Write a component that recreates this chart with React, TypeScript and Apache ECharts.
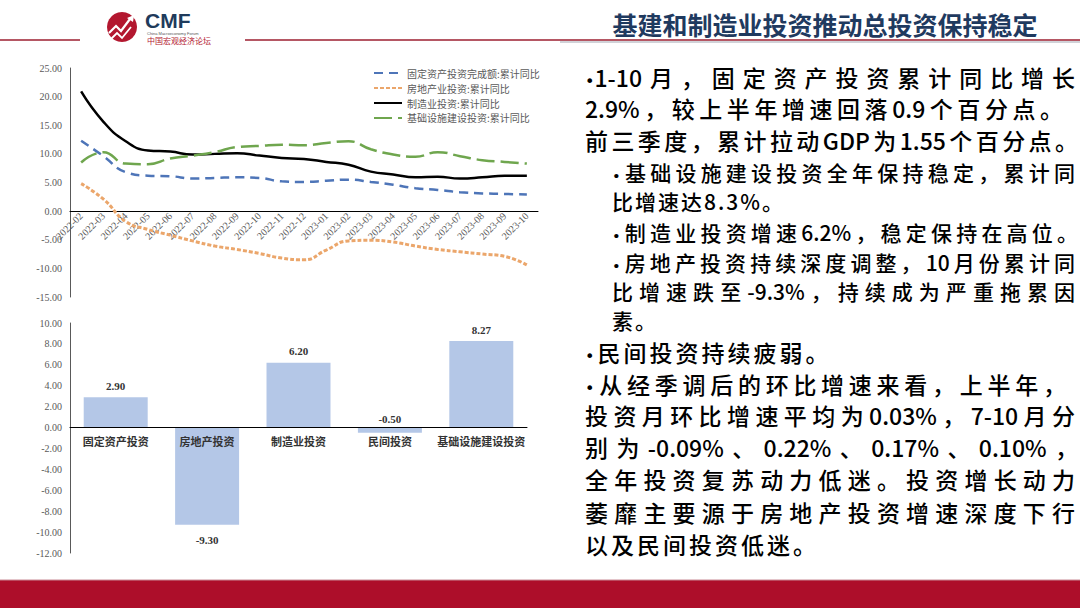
import React, { useEffect, useRef } from "react";
import * as echarts from "echarts";

const months = [
  "2022-02", "2022-03", "2022-04", "2022-05", "2022-06", "2022-07", "2022-08",
  "2022-09", "2022-10", "2022-11", "2022-12", "2023-01", "2023-02", "2023-03",
  "2023-04", "2023-05", "2023-06", "2023-07", "2023-08", "2023-09", "2023-10",
];
const fixedAsset = [12.3, 9.6, 6.8, 6.2, 6.1, 5.7, 5.8, 5.9, 5.8, 5.2, 5.1, 5.3, 5.5, 5.1, 4.6, 4.0, 3.7, 3.3, 3.1, 3.0, 2.9];
const realEstate = [4.8, 2.1, -1.8, -3.2, -4.2, -5.2, -6.1, -6.7, -7.4, -8.2, -8.5, -6.8, -5.2, -5.1, -5.4, -6.1, -6.7, -7.1, -7.5, -7.9, -9.4];
const manufacturing = [20.9, 15.6, 12.2, 10.6, 10.4, 9.9, 10.0, 10.1, 9.7, 9.3, 9.1, 8.6, 8.1, 6.9, 6.4, 5.9, 6.0, 5.7, 5.9, 6.2, 6.2];
const infrastructure = [8.5, 10.3, 8.3, 8.2, 9.2, 9.7, 10.3, 11.2, 11.4, 11.6, 11.5, 11.9, 12.2, 10.8, 9.9, 9.5, 10.3, 9.6, 8.9, 8.6, 8.3];
const lineNames = [
  "固定资产投资完成额:累计同比",
  "房地产业投资:累计同比",
  "制造业投资:累计同比",
  "基础设施建设投资:累计同比",
];

const barCategories = ["固定资产投资", "房地产投资", "制造业投资", "民间投资", "基础设施建设投资"];
const barValues = [2.9, -9.3, 6.2, -0.5, 8.27];

const title = "基建和制造业投资推动总投资保持稳定";

const textLines = [
  "•1-10月，固定资产投资累计同比增长",
  "2.9%，较上半年增速回落0.9个百分点。",
  "前三季度，累计拉动GDP为1.55个百分点。",
  "•基础设施建设投资全年保持稳定，累计同",
  "比增速达8.3%。",
  "•制造业投资增速6.2%，稳定保持在高位。",
  "•房地产投资持续深度调整，10月份累计同",
  "比增速跌至-9.3%，持续成为严重拖累因",
  "素。",
  "•民间投资持续疲弱。",
  "•从经季调后的环比增速来看，上半年，",
  "投资月环比增速平均为0.03%，7-10月分",
  "别为-0.09%、0.22%、0.17%、0.10%，",
  "全年投资复苏动力低迷。投资增长动力",
  "萎靡主要源于房地产投资增速深度下行",
  "以及民间投资低迷。",
];
// layout for each text line: [centerY, indented, justified, rightEdge]
const textLayout: [number, boolean, boolean, number][] = [
  [77, false, true, 1075],
  [108, false, true, 1063],
  [140, false, true, 1078],
  [172, true, true, 1075],
  [201, true, false, 0],
  [232, true, true, 1078],
  [262, true, true, 1075],
  [291, true, true, 1075],
  [320, true, false, 0],
  [352, false, false, 0],
  [384, false, true, 1066],
  [415, false, true, 1075],
  [447, false, true, 1078],
  [479, false, true, 1075],
  [512, false, true, 1075],
  [544, false, false, 0],
];

const fmt2 = (v: number) => Number(v).toFixed(2);

const LINE_GRID = { left: 70, top: 68, width: 468, height: 229 };
const BAR_GRID = { left: 70, top: 323, width: 457, height: 230 };
const LINE_Y = { min: -15, max: 25, interval: 5 };
const BAR_Y = { min: -12, max: 10, interval: 2 };
const zeroOffset = (h: number, y: { min: number; max: number }) => -(h * (0 - y.min)) / (y.max - y.min);

export default function App() {
  const ref = useRef<HTMLDivElement>(null);
  useEffect(() => {
    if (!ref.current) return;
    const chart = echarts.init(ref.current, null, { renderer: "svg" });
    const axisLabelStyle = {
      fontFamily: "Liberation Serif",
      fontSize: 10,
      color: "#595959",
    };
    const option: any = {
      animation: false,
      backgroundColor: "#ffffff",
      graphic: [
        { type: "line", shape: { x1: 0, y1: 40, x2: 80, y2: 40 }, style: { stroke: "#9C1F30", lineWidth: 1.5 } },
        { type: "line", shape: { x1: 245, y1: 40, x2: 1080, y2: 40 }, style: { stroke: "#9C1F30", lineWidth: 1.5 } },
        { type: "line", shape: { x1: 560, y1: 42, x2: 1080, y2: 42 }, style: { stroke: "#8A8FA0", lineWidth: 0.8 } },
        { type: "circle", shape: { cx: 122, cy: 27, r: 15 }, style: { fill: "#B3172F" } },
        { type: "polyline", shape: { points: [[109, 33], [116, 26], [121, 31], [130, 19]] }, style: { stroke: "#fff", lineWidth: 2.2, fill: null } },
        { type: "polyline", shape: { points: [[111, 39], [117, 33], [122, 38], [131, 27]] }, style: { stroke: "#fff", lineWidth: 1.8, fill: null } },
        { type: "polygon", shape: { points: [[127, 18], [134, 15], [133, 22]] }, style: { fill: "#fff" } },
        { type: "text", x: 145, y: 20, style: { text: "CMF", font: "bold 21px 'Liberation Sans'", fill: "#1F3B5C", textVerticalAlign: "middle" } },
        { type: "text", x: 147, y: 33, style: { text: "China Macroeconomy Forum", font: "4px 'Liberation Sans'", fill: "#555", textVerticalAlign: "middle" } },
        { type: "text", x: 147, y: 40, style: { text: "中国宏观经济论坛", font: "8px 'Noto Sans CJK SC'", fill: "#B3172F", textVerticalAlign: "middle" } },
        { type: "text", x: 825, y: 24, style: { text: title, font: "bold 25px 'Noto Sans CJK SC'", fill: "#1F3A5F", textAlign: "center", textVerticalAlign: "middle" } },
        { type: "rect", shape: { x: 0, y: 580, width: 1080, height: 28 }, style: { fill: "#AD0E2A" } },
        { type: "line", shape: { x1: 0, y1: 580, x2: 1080, y2: 580 }, style: { stroke: "#C98A95", lineWidth: 1 } },
      ],
      legend: {
        orient: "vertical",
        left: 368,
        top: 63,
        itemWidth: 28,
        itemHeight: 10,
        itemGap: 5,
        data: lineNames,
        itemStyle: { opacity: 0 },
        textStyle: { fontSize: 10, color: "#595959", fontFamily: "Noto Sans CJK SC" },
      },
      grid: [LINE_GRID, BAR_GRID],
      xAxis: [
        {
          type: "category",
          gridIndex: 0,
          data: months,
          boundaryGap: true,
          position: "bottom",
          offset: zeroOffset(LINE_GRID.height, LINE_Y),
          axisLine: { onZero: false, lineStyle: { color: "#000", width: 1 } },
          axisTick: { show: false },
          axisLabel: { ...axisLabelStyle, rotate: 45, interval: 0, margin: 3 },
        },
        {
          type: "category",
          gridIndex: 1,
          data: barCategories,
          position: "bottom",
          z: 5,
          offset: zeroOffset(BAR_GRID.height, BAR_Y),
          axisLine: { onZero: false, lineStyle: { color: "#000", width: 1 } },
          axisTick: { show: false },
          axisLabel: { interval: 0, fontSize: 11, fontWeight: "bold", color: "#333", margin: 8, fontFamily: "Noto Sans CJK SC" },
        },
      ],
      yAxis: [
        {
          type: "value",
          gridIndex: 0,
          ...LINE_Y,
          axisLine: { show: true, onZero: false, lineStyle: { color: "#595959" } },
          axisTick: { show: false },
          splitLine: { show: false },
          axisLabel: { ...axisLabelStyle, formatter: fmt2, margin: 8 },
        },
        {
          type: "value",
          gridIndex: 1,
          ...BAR_Y,
          axisLine: { show: true, onZero: false, lineStyle: { color: "#595959" } },
          axisTick: { show: false },
          splitLine: { show: false },
          axisLabel: { ...axisLabelStyle, formatter: fmt2, margin: 8 },
        },
      ],
      series: [
        {
          name: lineNames[0], type: "line", xAxisIndex: 0, yAxisIndex: 0, data: fixedAsset, smooth: true, symbol: "none",
          color: "#4E75B8", lineStyle: { width: 2.5, type: [9, 6], color: "#4E75B8" },
        },
        {
          name: lineNames[1], type: "line", xAxisIndex: 0, yAxisIndex: 0, data: realEstate, smooth: true, symbol: "none",
          color: "#EBA66B", lineStyle: { width: 3, type: [4, 2], color: "#EBA66B" },
        },
        {
          name: lineNames[2], type: "line", xAxisIndex: 0, yAxisIndex: 0, data: manufacturing, smooth: true, symbol: "none",
          color: "#000000", lineStyle: { width: 2.5, type: "solid", color: "#000000" },
        },
        {
          name: lineNames[3], type: "line", xAxisIndex: 0, yAxisIndex: 0, data: infrastructure, smooth: true, symbol: "none",
          color: "#6FA64E", lineStyle: { width: 2.5, type: [18, 6], color: "#6FA64E" },
        },
        {
          name: "bar", type: "bar", xAxisIndex: 1, yAxisIndex: 1, barWidth: "70%",
          itemStyle: { color: "#B4C7E7" },
          label: {
            show: true, formatter: (p: any) => fmt2(p.value), fontFamily: "Liberation Serif",
            fontSize: 11, fontWeight: "bold", color: "#333",
          },
          data: barValues.map((v, i) => ({
            value: v,
            label: { position: v < -1 ? "bottom" : "top", distance: v < -1 ? 10 : (v < 0 ? 3 : 6) },
          })),
        },
      ],
    };
    chart.setOption(option);
    return () => chart.dispose();
  }, []);

  return (
    <div style={{ position: "fixed", left: 0, top: 0, width: 1080, height: 608, background: "#fff", overflow: "hidden" }}>
      <div ref={ref} style={{ position: "absolute", left: 0, top: 0, width: 1080, height: 608 }} />
      {textLines.map((t, i) => {
        const [cy, indent, justify, right] = textLayout[i];
        const left = indent ? 612 : 585;
        const fontSize = indent ? 21 : 23;
        const style: React.CSSProperties = {
          position: "absolute",
          left,
          top: cy - 15,
          height: 30,
          lineHeight: "30px",
          fontSize,
          fontWeight: 500,
          fontFamily: "'Noto Sans CJK SC', sans-serif",
          color: "#000",
          whiteSpace: "nowrap",
        };
        if (justify) {
          style.width = right - left;
          style.textAlign = "justify";
          (style as any).textAlignLast = "justify";
        } else {
          style.letterSpacing = indent ? "2px" : "3px";
        }
        const hasBullet = t.startsWith("•");
        const body = hasBullet ? t.slice(1) : t;
        return (
          <div key={i} style={style}>
            {hasBullet && <span style={{ fontFamily: "'DejaVu Sans'", fontSize: fontSize * 0.7 }}>•</span>}
            {body}
          </div>
        );
      })}
    </div>
  );
}
